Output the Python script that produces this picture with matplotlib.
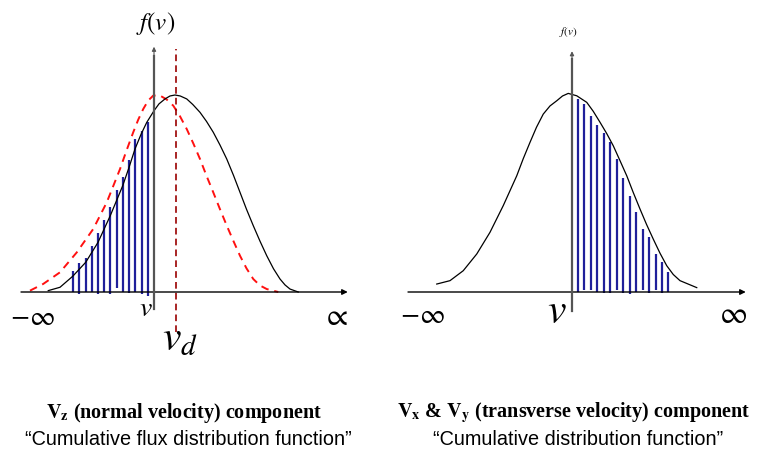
import matplotlib.pyplot as plt

plt.rcParams['mathtext.fontset'] = 'stix'

# ---- left panel: Vz component (velocity units, f normalised to peak = 1) ----
left_v = [-4.23, -3.76, -3.25, -2.73, -2.24, -1.75, -1.25, -1.0, -0.76, -0.52, -0.29, 0.0,
          0.2, 0.44, 0.64, 0.84, 1.05, 1.31, 1.55, 1.84, 2.1, 2.37, 2.64, 2.91, 3.18, 3.44,
          3.7, 3.97, 4.24, 4.51, 4.78, 5.04, 5.24, 5.44, 5.77]
left_f = [0.007, 0.024, 0.080, 0.151, 0.252, 0.387, 0.540, 0.632, 0.726, 0.800, 0.861, 0.920,
          0.955, 0.980, 0.995, 1.0, 0.995, 0.98, 0.952, 0.912, 0.866, 0.811, 0.746, 0.675,
          0.592, 0.506, 0.420, 0.337, 0.258, 0.184, 0.118, 0.066, 0.036, 0.015, 0.0]

red_v = [-4.96, -4.43, -3.76, -3.09, -2.43, -1.89, -1.36, -1.1, -0.83, -0.63, -0.43, -0.23,
         -0.03, 0.24, 0.5, 0.77, 1.04, 1.31, 1.58, 1.84, 2.1, 2.37, 2.64, 2.91, 3.18, 3.44,
         3.7, 3.97, 4.24, 4.51, 4.97]
red_f = [0.007, 0.041, 0.100, 0.201, 0.320, 0.455, 0.624, 0.718, 0.811, 0.875, 0.929, 0.972,
         0.997, 0.997, 0.978, 0.946, 0.892, 0.827, 0.752, 0.675, 0.590, 0.506, 0.420, 0.337,
         0.258, 0.184, 0.120, 0.066, 0.033, 0.015, 0.0]

left_hatch_v = [-3.25, -2.99, -2.73, -2.48, -2.24, -1.99, -1.75, -1.49, -1.25, -1.0,
                -0.76, -0.49, -0.25]
left_hatch_top = [0.105, 0.147, 0.171, 0.235, 0.299, 0.365, 0.430, 0.518, 0.582, 0.670,
                  0.777, 0.819, 0.861]
left_hatch_bot = [0.0, -0.01, 0.0, 0.0, -0.01, 0.0, -0.01, 0.02, 0.0, -0.005, 0.0,
                  -0.01, -0.02]
v_drift = 0.88

# ---- right panel: Vx & Vy component ----
right_v = [-5.41, -4.88, -4.35, -3.81, -3.28, -2.75, -2.48, -2.21, -1.95, -1.68, -1.42,
           -1.15, -0.88, -0.61, -0.38, -0.15, 0.19, 0.59, 0.85, 1.12, 1.39, 1.65, 1.92,
           2.19, 2.45, 2.72, 2.98, 3.25, 3.52, 3.79, 4.05, 4.32, 4.99]
right_f = [0.040, 0.057, 0.107, 0.191, 0.300, 0.434, 0.509, 0.584, 0.670, 0.752, 0.828,
           0.894, 0.935, 0.961, 0.985, 0.998, 0.986, 0.953, 0.908, 0.853, 0.796, 0.735,
           0.660, 0.584, 0.500, 0.417, 0.340, 0.266, 0.195, 0.132, 0.088, 0.057, 0.022]

right_hatch_v = [0.25, 0.49, 0.76, 1.01, 1.27, 1.52, 1.79, 2.05, 2.31, 2.56, 2.83, 3.08,
                 3.35, 3.60, 3.85]
right_hatch_top = [0.970, 0.945, 0.883, 0.839, 0.799, 0.755, 0.668, 0.571, 0.484, 0.400,
                   0.317, 0.275, 0.191, 0.149, 0.099]
right_hatch_bot = [0.0, 0.01, 0.01, 0.0, -0.005, -0.005, 0.01, -0.005, -0.01, 0.0, 0.01,
                   -0.005, 0.01, -0.005, 0.0]

captions_bold = [r"$\mathbf{V}_{\mathbf{z}}$ (normal velocity) component",
                 r"$\mathbf{V}_{\mathbf{x}}$ & $\mathbf{V}_{\mathbf{y}}$ (transverse velocity) component"]
captions_sub = ["\u201cCumulative flux distribution function\u201d",
                "\u201cCumulative distribution function\u201d"]

navy = '#1f1f9a'
W, H = 762, 456
fig = plt.figure(figsize=(W / 100, H / 100), dpi=100)

# left axes: origin at pixel (154, 293), 25 px per v unit, 197 px per f unit
axL = fig.add_axes([0, 0, 380 / W, 1])
axL.set_xlim((0 - 154) / 25, (380 - 154) / 25)
axL.set_ylim((293 - 456) / 197, 293 / 197)
axL.axis('off')

axL.vlines(left_hatch_v, left_hatch_bot, left_hatch_top, color=navy, lw=1.6, zorder=2)
axL.plot(red_v, red_f, color='#ff1010', lw=1.4, ls=(0, (4, 3)), zorder=3)
axL.plot(left_v, left_f, color='black', lw=0.9, zorder=3)
axL.plot([v_drift, v_drift], [-0.203, 1.234], color='#9a0000', lw=1.2, ls=(0, (4, 2.5)), zorder=3)
axL.annotate('', xy=(7.75, 0), xytext=(-5.32, 0),
             arrowprops=dict(arrowstyle='-|>', color='black', lw=1.0, mutation_scale=8,
                             shrinkA=0, shrinkB=0))
axL.plot([0, 0], [-0.086, 1.2], color='#555555', lw=1.6, zorder=4)
axL.annotate('', xy=(0, 1.245), xytext=(0, 1.19),
             arrowprops=dict(arrowstyle='-|>', color='#555555', lw=0.8, mutation_scale=6,
                             shrinkA=0, shrinkB=0))
axL.text(0.05, 1.37, r'$f(v)$', fontsize=18, ha='center', va='center')
axL.text(-4.88, -0.12, r'$-\infty$', fontsize=20, ha='center', va='center')
axL.text(7.24, -0.12, r'$\propto$', fontsize=22, ha='center', va='center')
axL.text(-0.32, -0.075, r'$v$', fontsize=20, ha='center', va='center')
axL.text(1.05, -0.23, r'$v_d$', fontsize=30, ha='center', va='center')

# right axes: origin at pixel (572, 293)
axR = fig.add_axes([380 / W, 0, 382 / W, 1])
axR.set_xlim((380 - 572) / 25, (762 - 572) / 25)
axR.set_ylim((293 - 456) / 199, 293 / 199)
axR.axis('off')

axR.vlines(right_hatch_v, right_hatch_bot, right_hatch_top, color=navy, lw=1.6, zorder=2)
axR.plot(right_v, right_f, color='black', lw=0.9, zorder=3)
axR.annotate('', xy=(6.95, 0), xytext=(-6.56, 0),
             arrowprops=dict(arrowstyle='-|>', color='black', lw=1.0, mutation_scale=8,
                             shrinkA=0, shrinkB=0))
axR.plot([0, 0], [-0.095, 1.17], color='#555555', lw=1.6, zorder=4)
axR.annotate('', xy=(0, 1.21), xytext=(0, 1.16),
             arrowprops=dict(arrowstyle='-|>', color='#555555', lw=0.8, mutation_scale=6,
                             shrinkA=0, shrinkB=0))
axR.text(-0.15, 1.31, r'$f(v)$', fontsize=8, ha='center', va='center')
axR.text(-6.0, -0.11, r'$-\infty$', fontsize=20, ha='center', va='center')
axR.text(6.44, -0.11, r'$\infty$', fontsize=22, ha='center', va='center')
axR.text(-0.6, -0.09, r'$v$', fontsize=30, ha='center', va='center')

# captions
cap_x = [184, 574]
for x, t1, t2 in zip(cap_x, captions_bold, captions_sub):
    fig.text(x / W, 1 - 413 / H, t1, fontsize=14.5, fontweight='bold',
             family='Liberation Serif', ha='center', va='center')
    fig.text((x + 4) / W, 1 - 440 / H, t2, fontsize=14.3, family='Liberation Sans',
             ha='center', va='center')

fig.savefig('out.png', dpi=100)
